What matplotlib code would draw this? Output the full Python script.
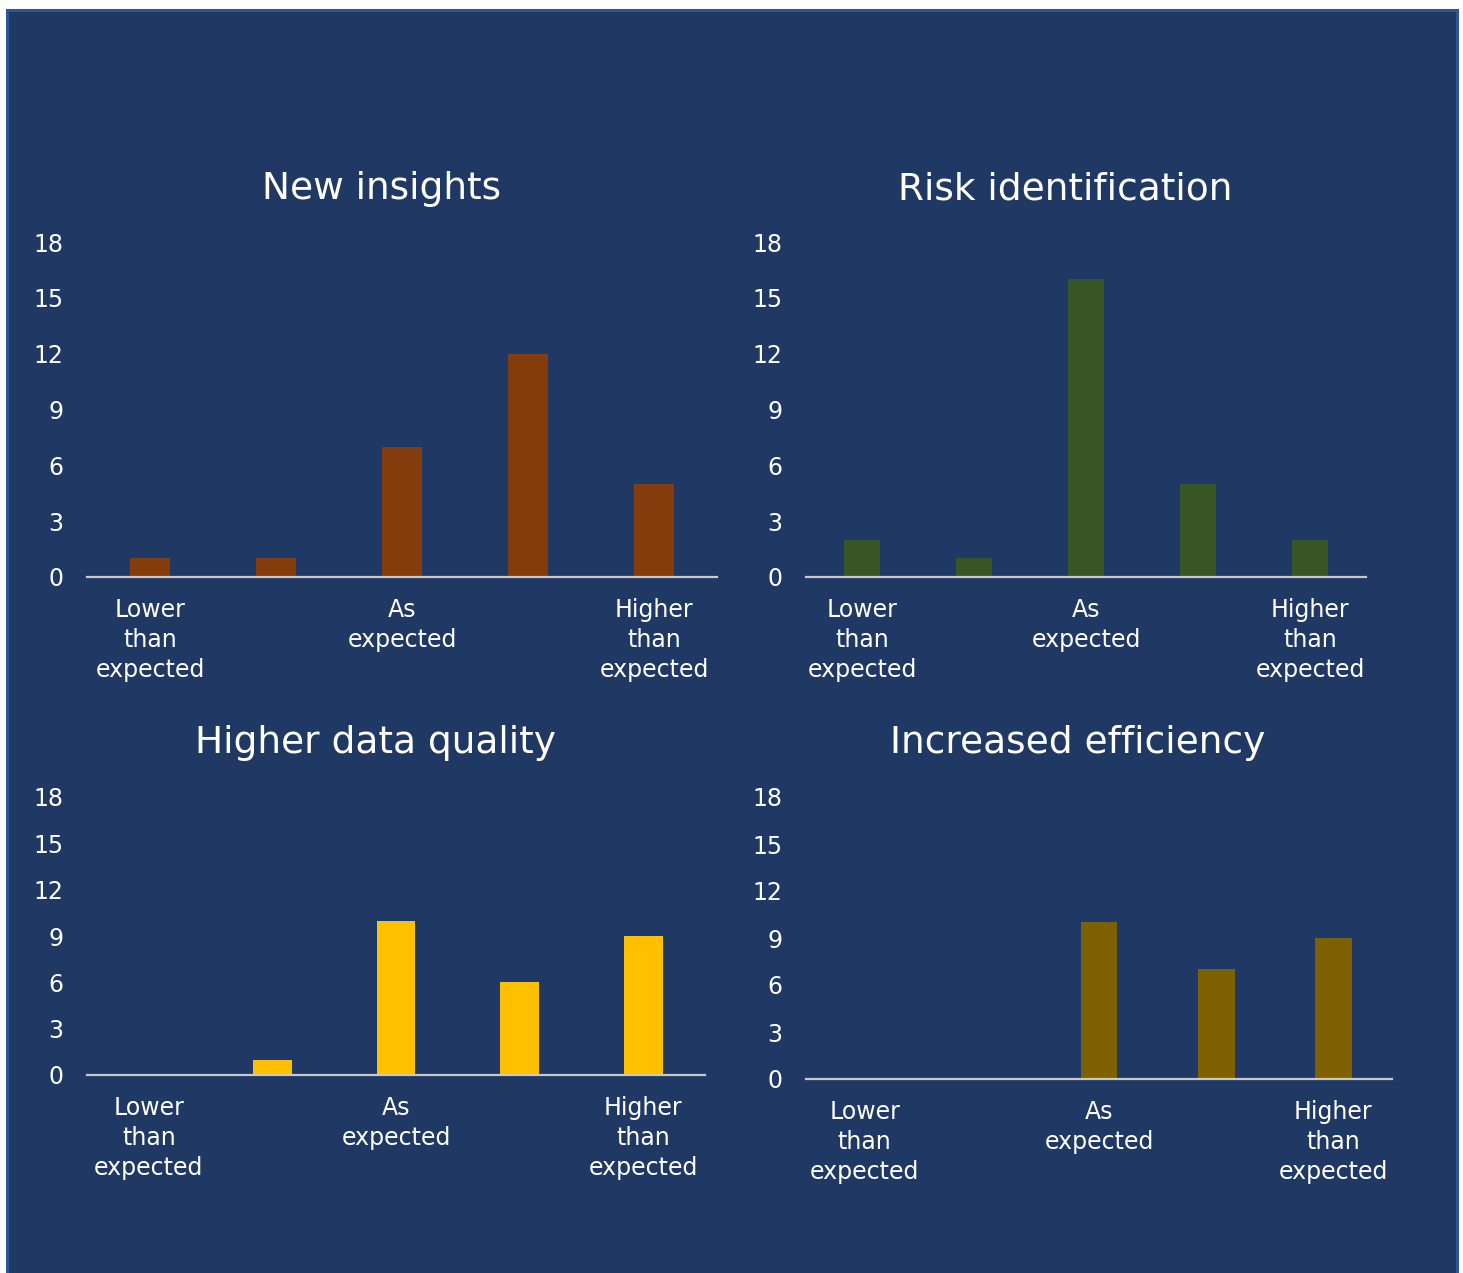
import matplotlib.pyplot as plt
from matplotlib.patches import Rectangle

# survey answers per benefit, five-point scale from lower to higher than expected
CATEGORIES = ["Lower\nthan\nexpected", "", "As\nexpected", "", "Higher\nthan\nexpected"]
NEW_INSIGHTS = [1, 1, 7, 12, 5]
RISK_IDENTIFICATION = [2, 1, 16, 5, 2]
DATA_QUALITY = [0, 1, 10, 6, 9]
EFFICIENCY = [0, 0, 10, 7, 9]
YTICKS = [0, 3, 6, 9, 12, 15, 18]

BG = "#203864"
BORDER = "#2F5597"
AXIS_LINE = "#C9C9C9"

W, H = 1463, 1273
fig = plt.figure(figsize=(W / 100, H / 100), dpi=100)
fig.patch.set_facecolor("white")

# dark panel with a thin lighter frame, kept behind the charts
fig.patches.append(Rectangle((6.5 / W, -0.01), 1450 / W, 1 - 9.5 / H + 0.01,
                             transform=fig.transFigure, facecolor=BG,
                             edgecolor=BORDER, linewidth=2.2, zorder=-1))


def px_axes(x0, x1, y_top, y_zero):
    return fig.add_axes([x0 / W, 1 - y_zero / H, (x1 - x0) / W, (y_zero - y_top) / H])


panels = [
    ("New insights", NEW_INSIGHTS, "#843C0C", (87, 717, 242, 577), (382, 189)),
    ("Risk identification", RISK_IDENTIFICATION, "#375623", (806, 1366, 242, 577), (1065, 189)),
    ("Higher data quality", DATA_QUALITY, "#FFC000", (87, 705, 797, 1075), (375, 743)),
    ("Increased efficiency", EFFICIENCY, "#7F6000", (806, 1392, 797, 1079), (1078, 743)),
]

for title, values, color, box, title_pos in panels:
    ax = px_axes(*box)
    ax.set_facecolor("none")
    x = range(len(values))
    ax.bar(x, values, width=0.315, color=color, zorder=2)
    ax.set_xlim(-0.5, len(values) - 0.5)
    ax.set_ylim(0, 18)
    ax.set_yticks(YTICKS)
    ax.set_xticks(list(x))
    ax.set_xticklabels(CATEGORIES, linespacing=1.32)
    ax.tick_params(axis="both", length=0, colors="white", labelsize=17)
    ax.tick_params(axis="y", pad=17)
    ax.tick_params(axis="x", pad=15)
    for side in ("top", "right", "left"):
        ax.spines[side].set_visible(False)
    ax.spines["bottom"].set_color(AXIS_LINE)
    ax.spines["bottom"].set_linewidth(1.6)
    ax.spines["bottom"].set_zorder(3)
    fig.text(title_pos[0] / W, 1 - title_pos[1] / H, title, color="white",
             fontsize=27, ha="center", va="center")

fig.savefig("out.png", dpi=100, facecolor=fig.get_facecolor())
